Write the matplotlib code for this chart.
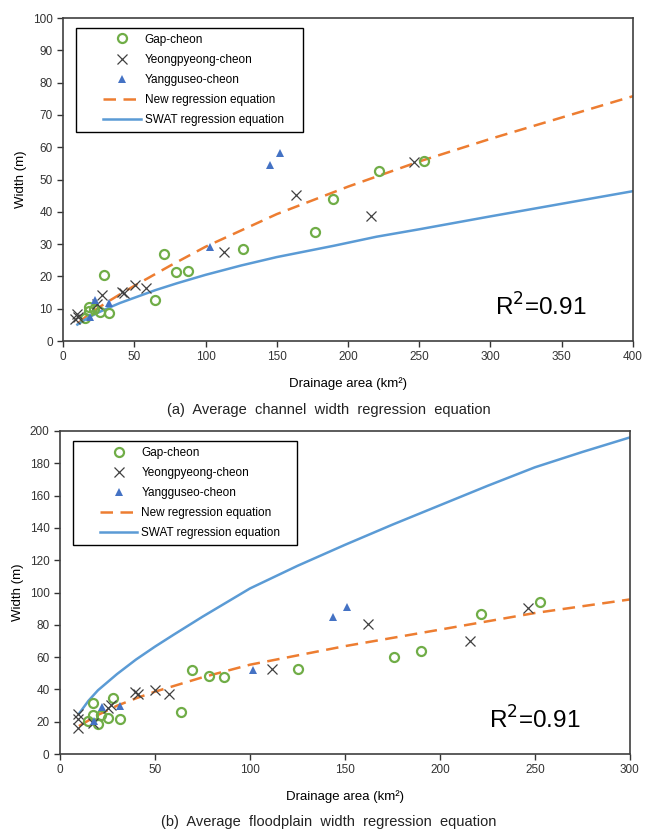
import matplotlib
matplotlib.use('Agg')
import matplotlib.pyplot as plt
from matplotlib.ticker import MultipleLocator
from matplotlib.lines import Line2D
from matplotlib.legend_handler import HandlerLine2D

plt.rcParams['font.family'] = ['Liberation Sans', 'DejaVu Sans']

GREEN = '#70AD47'
GREY = '#404040'
BLUE_TRI = '#4472C4'
ORANGE = '#ED7D31'
BLUE_LINE = '#5B9BD5'

# (a) channel width
gap_x_a = [15.5, 18, 18.5, 21.5, 26, 32, 29, 64.7, 70.6, 79.5, 87.5, 126.6, 177, 189.6, 221.9, 253.5]
gap_y_a = [7.2, 10.6, 9.3, 9.8, 8.9, 8.8, 20.5, 12.8, 27.1, 21.4, 21.7, 28.6, 33.7, 44.1, 52.7, 55.7]
yeong_x_a = [8.4, 9.6, 10.2, 24, 27.3, 41.0, 42.5, 50.6, 58.1, 113, 163.5, 215.9, 246.5]
yeong_y_a = [6.9, 8.5, 7.5, 11.5, 14.2, 15.3, 14.8, 17.3, 16.5, 27.6, 45.2, 38.6, 55.3]
yang_x_a = [18.8, 22.5, 32.3, 103, 145, 152.5]
yang_y_a = [7.4, 12.6, 11.8, 29.2, 54.5, 58.3]
new_x_a = [10, 15, 20, 30, 40, 50, 75, 100, 150, 200, 250, 300, 400]
new_y_a = [5.3, 7.2, 8.9, 11.8, 14.5, 17.1, 23.3, 29.2, 39.3, 47.8, 55.6, 62.6, 75.8]
swat_x_a = [10, 15, 20, 25, 32, 40, 50, 65, 80, 100, 125, 150, 190, 220, 250, 300, 350, 400]
swat_y_a = [5.1, 6.5, 7.8, 8.9, 10.3, 11.8, 13.4, 15.8, 17.9, 20.5, 23.4, 26.0, 29.5, 32.3,
            34.6, 38.6, 42.5, 46.4]

# (b) floodplain width
gap_x_b = [14.7, 17.4, 17.4, 20.0, 21.7, 25.3, 27.9, 31.4, 63.7, 69.6, 78.2, 86.3, 125.4, 176, 189.8, 221.4, 252.6]
gap_y_b = [20.4, 31.4, 24.1, 18.5, 24.1, 22.1, 34.4, 21.5, 26.2, 52.0, 48.5, 47.8, 52.6, 59.8, 63.9, 86.4, 94.2]
yeong_x_b = [9.5, 9.5, 9.5, 17.4, 25.3, 27.0, 39.5, 40.9, 50.0, 57.4, 111.4, 162.3, 215.8, 246.5]
yeong_y_b = [24.7, 21.5, 16.2, 19.0, 28.3, 30.3, 38.6, 37.1, 39.6, 37.1, 52.6, 80.6, 69.9, 90.1]
yang_x_b = [17.9, 21.9, 31.5, 101.8, 143.9, 150.9]
yang_y_b = [20.4, 28.9, 29.9, 52.0, 84.9, 91.1]
new_x_b = [10, 15, 20, 30, 40, 50, 75, 100, 150, 200, 250, 300]
new_y_b = [17.3, 20.8, 24.2, 29.9, 34.5, 38.6, 47.5, 55.3, 66.8, 77.0, 87.3, 95.7]
swat_x_b = [10, 15, 20, 25, 30, 40, 50, 60, 75, 100, 125, 150, 175, 200, 225, 250, 275, 300]
swat_y_b = [25.0, 33.0, 39.5, 44.5, 49.5, 58.5, 66.5, 74.0, 85.0, 102.5, 116.5, 129.5, 142.0,
            154.0, 166.0, 177.5, 187.0, 196.0]


def panel(ax, gx, gy, yx, yy, tx, ty, nx, ny, sx, sy, xmax, ymax, ystep, r2pos, legbox):
    ax.plot(gx, gy, 'o', mfc='none', mec=GREEN, mew=1.6, ms=6.5, label='Gap-cheon', zorder=3)
    ax.plot(yx, yy, 'x', color=GREY, mew=0.9, ms=7, label='Yeongpyeong-cheon', zorder=3)
    ax.plot(tx, ty, '^', color=BLUE_TRI, ms=5.5, mew=0, label='Yangguseo-cheon', zorder=3)
    ax.plot(nx, ny, '--', color=ORANGE, lw=1.8, dashes=(5, 3), label='New regression equation', zorder=2)
    ax.plot(sx, sy, '-', color=BLUE_LINE, lw=1.8, label='SWAT regression equation', zorder=2)
    ax.set_xlim(0, xmax)
    ax.set_ylim(0, ymax)
    ax.xaxis.set_major_locator(MultipleLocator(50))
    ax.yaxis.set_major_locator(MultipleLocator(ystep))
    ax.tick_params(direction='out', length=4, width=1, labelsize=8.5, colors='#333333')
    for s in ax.spines.values():
        s.set_color('#404040')
        s.set_linewidth(1.2)
    ax.set_ylabel('Width (m)', fontsize=9.5, labelpad=4)
    ax.set_xlabel('Drainage area (km\u00b2)', fontsize=9.5, labelpad=10)
    ax.text(r2pos[0], r2pos[1], 'R$^2$=0.91', fontsize=17.5, va='center', ha='left',
            math_fontfamily='dejavusans')
    leg = ax.legend(loc='upper left', bbox_to_anchor=legbox, mode='expand', fontsize=8.5,
                    fancybox=False, edgecolor='black', framealpha=1, handlelength=4.95,
                    handletextpad=0.34, borderpad=0.5, labelspacing=0.68, borderaxespad=0,
                    handler_map={Line2D: HandlerLine2D(xpad=1.8)})
    leg.get_frame().set_linewidth(1.0)


fig = plt.figure(figsize=(6.61, 8.38), dpi=100)
ax1 = fig.add_axes([0.0955, 0.593, 0.862, 0.3855])
ax2 = fig.add_axes([0.0908, 0.1002, 0.862, 0.3855])

panel(ax1, gap_x_a, gap_y_a, yeong_x_a, yeong_y_a, yang_x_a, yang_y_a,
      new_x_a, new_y_a, swat_x_a, swat_y_a, 400, 100, 10, (303, 10.5), (0.023, 0.0, 0.398, 0.97))
panel(ax2, gap_x_b, gap_y_b, yeong_x_b, yeong_y_b, yang_x_b, yang_y_b,
      new_x_b, new_y_b, swat_x_b, swat_y_b, 300, 200, 20, (226, 21), (0.023, 0.0, 0.393, 0.969))

fig.text(0.497, 1 - 410 / 838, '(a)  Average  channel  width  regression  equation',
         ha='center', va='center', fontsize=10.5, color='#222222')
fig.text(0.497, 1 - 822 / 838, '(b)  Average  floodplain  width  regression  equation',
         ha='center', va='center', fontsize=10.5, color='#222222')

fig.savefig('out.png', dpi=100)
